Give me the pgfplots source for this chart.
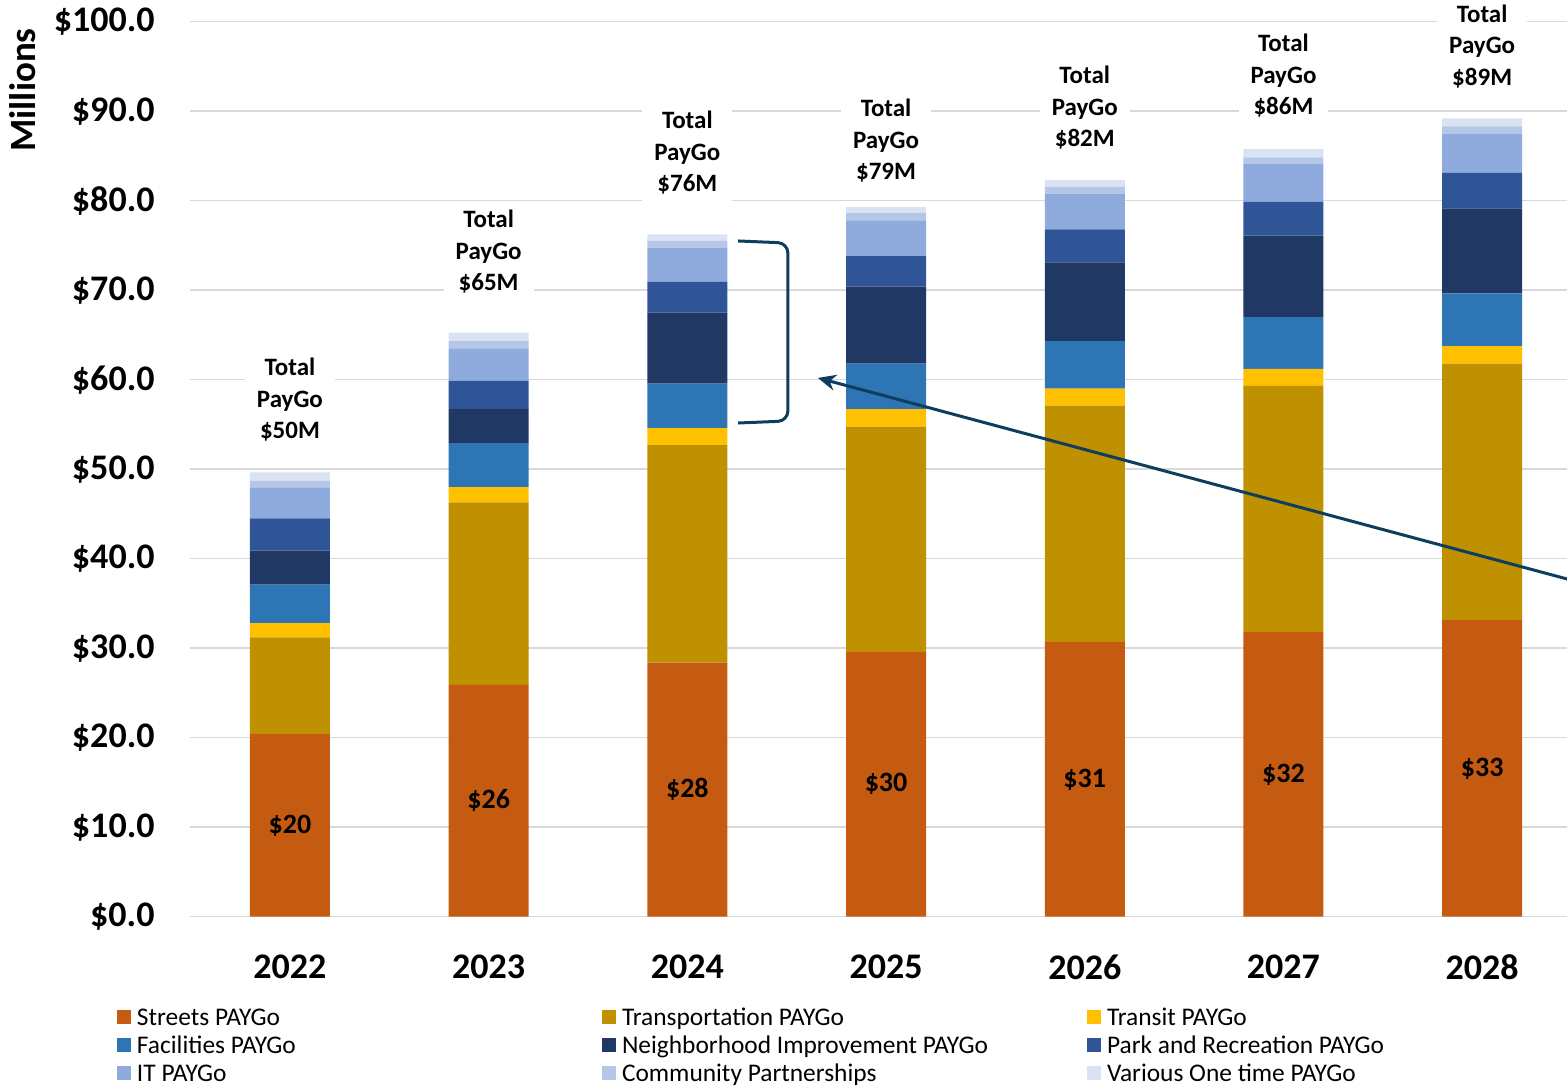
\documentclass[border=0pt]{standalone}
\usepackage{fontspec}
\setmainfont{Carlito}
\usepackage{pgfplots}
\pgfplotsset{compat=1.18}
\usepackage{pgfplotstable}
\usetikzlibrary{arrows.meta}

\definecolor{cStreets}{HTML}{C55A11}
\definecolor{cTransp}{HTML}{BF9000}
\definecolor{cTransit}{HTML}{FFC000}
\definecolor{cFac}{HTML}{2E75B6}
\definecolor{cNeigh}{HTML}{203864}
\definecolor{cPark}{HTML}{2F5597}
\definecolor{cIT}{HTML}{8FAADC}
\definecolor{cComm}{HTML}{B4C7E7}
\definecolor{cVar}{HTML}{DAE3F3}
\definecolor{cGrid}{HTML}{D9D9D9}
\definecolor{cAnn}{HTML}{0E3D5E}

\pgfplotstableread{
x streets transp transit fac neigh park it comm various
0 20.40 10.80 1.60 4.30 3.80 3.60 3.40 0.80 0.95
1 25.90 20.40 1.70 4.90 3.80 3.20 3.60 0.80 0.95
2 28.40 24.30 1.90 4.95 7.95 3.45 3.80 0.75 0.75
3 29.60 25.15 1.95 5.10 8.60 3.40 4.00 0.80 0.70
4 30.70 26.40 1.90 5.30 8.80 3.70 4.00 0.75 0.75
5 31.80 27.50 1.90 5.80 9.10 3.80 4.20 0.75 0.90
6 33.15 28.65 1.95 5.90 9.50 3.95 4.35 0.85 0.90
}\paydata

\pgfplotsset{
  base/.style={width=688.5pt, height=447.5pt, scale only axis,
    xmin=-0.503, xmax=6.427, ymin=0, ymax=100, clip=false},
  sq legend/.style={legend image code/.code={\fill[##1] (0pt,-2pt) rectangle (7pt,5pt);}},
}

\begin{document}
\begin{tikzpicture}
\begin{axis}[base, name=main,
  ybar stacked, bar width=40pt,
  axis line style={draw=none}, tick style={draw=none},
  ymajorgrids, grid style={cGrid, line width=0.75pt},
  ytick={0,10,20,30,40,50,60,70,80,90,100},
  yticklabels={\$0.0,\$10.0,\$20.0,\$30.0,\$40.0,\$50.0,\$60.0,\$70.0,\$80.0,\$90.0,\$100.0},
  xtick={0,1,2,3,4,5,6},
  xticklabels={2022,2023,2024,2025,2026,2027,2028},
  yticklabel style={anchor=east, inner sep=0pt, xshift=-17.5pt, font=\fontsize{18}{20}\selectfont\bfseries},
  xticklabel style={anchor=north, inner sep=0pt, yshift=-19pt, font=\fontsize{18}{20}\selectfont\bfseries},
  legend columns=3,
  legend cell align=left,
  legend style={at={(axis description cs:0,0)}, anchor=north west,
    xshift=-36.5pt, yshift=-45.5pt, draw=none, fill=none, inner sep=0pt, outer sep=0pt,
    row sep=2pt, column sep=0pt,
    font=\fontsize{12.7}{14}\selectfont,
    nodes={inner sep=0pt, text height=9pt, text depth=3pt}},
]
\addplot[fill=cStreets, draw=none, sq legend] table[x=x, y=streets]{\paydata};
\addlegendentry{\makebox[235.5pt][l]{\hspace*{3pt}Streets PAYGo}}
\addplot[fill=cTransp, draw=none, sq legend] table[x=x, y=transp]{\paydata};
\addlegendentry{\makebox[235.5pt][l]{\hspace*{3pt}Transportation PAYGo}}
\addplot[fill=cTransit, draw=none, sq legend] table[x=x, y=transit]{\paydata};
\addlegendentry{\makebox[235.5pt][l]{\hspace*{3pt}Transit PAYGo}}
\addplot[fill=cFac, draw=none, sq legend] table[x=x, y=fac]{\paydata};
\addlegendentry{\makebox[235.5pt][l]{\hspace*{3pt}Facilities PAYGo}}
\addplot[fill=cNeigh, draw=none, sq legend] table[x=x, y=neigh]{\paydata};
\addlegendentry{\makebox[235.5pt][l]{\hspace*{3pt}Neighborhood Improvement PAYGo}}
\addplot[fill=cPark, draw=none, sq legend] table[x=x, y=park]{\paydata};
\addlegendentry{\makebox[235.5pt][l]{\hspace*{3pt}Park and Recreation PAYGo}}
\addplot[fill=cIT, draw=none, sq legend] table[x=x, y=it]{\paydata};
\addlegendentry{\makebox[235.5pt][l]{\hspace*{3pt}IT PAYGo}}
\addplot[fill=cComm, draw=none, sq legend] table[x=x, y=comm]{\paydata};
\addlegendentry{\makebox[235.5pt][l]{\hspace*{3pt}Community Partnerships}}
\addplot[fill=cVar, draw=none, sq legend] table[x=x, y=various]{\paydata};
\addlegendentry{\makebox[235.5pt][l]{\hspace*{3pt}Various One time PAYGo}}
\end{axis}

\begin{axis}[base, hide axis]
\addplot[draw=none, mark=none, point meta=explicit symbolic,
  nodes near coords={\$\pgfplotspointmeta},
  every node near coord/.append style={anchor=center, text=black, font=\fontsize{14}{16}\selectfont\bfseries}]
  coordinates {(0,10.2)[20] (1,12.95)[26] (2,14.2)[28] (3,14.8)[30] (4,15.35)[31] (5,15.9)[32] (6,16.58)[33]};
\addplot[draw=none, mark=none, point meta=explicit symbolic,
  nodes near coords={Total\\PayGo\\\$\pgfplotspointmeta M},
  every node near coord/.append style={anchor=south, align=center, fill=white, text=black,
    inner xsep=6pt, inner ysep=3pt, yshift=-4pt, font=\fontsize{12.5}{15.75}\selectfont\bfseries}]
  coordinates {(0,53.26)[50] (1,69.8)[65] (2,80.86)[76] (3,82.2)[79] (4,85.9)[82] (5,89.46)[86] (6,92.8)[89]};
\draw[cAnn, line width=1.5pt, rounded corners=5pt]
  (axis cs:2.255,75.5) -- (axis cs:2.506,75.27) -- (axis cs:2.506,55.39) -- (axis cs:2.255,55.16);
\draw[cAnn, line width=1.5pt, -{Stealth[length=9pt, width=8pt]}]
  (axis cs:6.45,37.6) -- (axis cs:2.657,60.2);
\end{axis}

\node[rotate=90, font=\fontsize{18.5}{20}\selectfont\bfseries] at ([xshift=-83.5pt, yshift=413.35pt]main.south west) {Millions};

\pgfresetboundingbox
\useasboundingbox ([xshift=-95pt, yshift=-85.15pt]main.south west) rectangle ([xshift=688.5pt, yshift=458.35pt]main.south west);
\end{tikzpicture}
\end{document}
